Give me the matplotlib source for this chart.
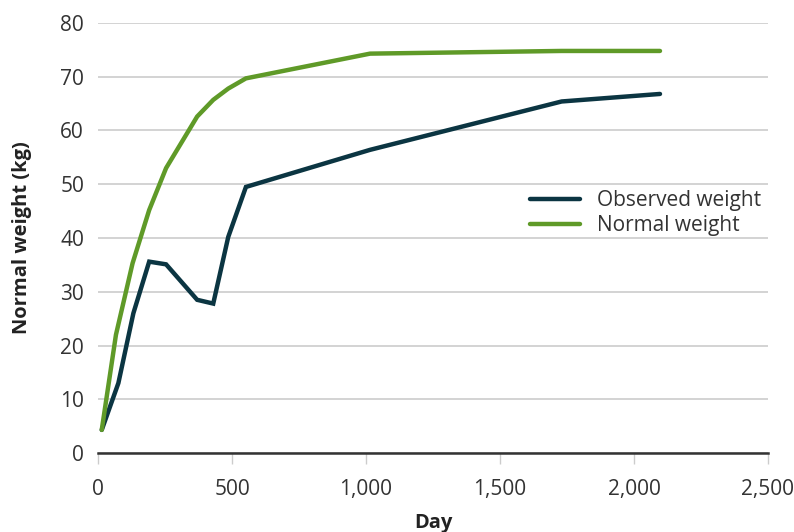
import matplotlib
matplotlib.use("Agg")
import matplotlib.pyplot as plt
from matplotlib.ticker import FuncFormatter

# values
days = [14, 76, 132, 191, 254, 370, 430, 486, 552, 1015, 1730, 2097]
observed = [4.3, 13.0, 26.0, 35.6, 35.1, 28.5, 27.8, 40.2, 49.5, 56.4, 65.4, 66.8]
normal_days = [14, 67, 129, 191, 254, 370, 430, 486, 552, 1015, 1730, 2097]
normal = [4.3, 22.0, 35.3, 45.2, 53.0, 62.6, 65.7, 67.8, 69.7, 74.3, 74.8, 74.8]

x_ticks = [0, 500, 1000, 1500, 2000, 2500]
y_ticks = [0, 10, 20, 30, 40, 50, 60, 70, 80]

plt.rcParams['font.family'] = ['Open Sans', 'DejaVu Sans']

fig = plt.figure(figsize=(7.94, 5.32), dpi=100)
ax = fig.add_axes([98 / 794, 1 - 453 / 532, 670 / 794, 430 / 532])

ax.plot(days, observed, color="#0b3542", lw=3.2, solid_capstyle="round",
        solid_joinstyle="miter", label="Observed weight", zorder=3)
ax.plot(normal_days, normal, color="#5f9a28", lw=3.2, solid_capstyle="round",
        solid_joinstyle="miter", label="Normal weight", zorder=3)

ax.set_xlim(0, 2500)
ax.set_ylim(0, 80)
ax.set_xticks(x_ticks)
ax.set_yticks(y_ticks)
ax.xaxis.set_major_formatter(FuncFormatter(lambda v, p: f"{int(v):,}"))

ax.grid(axis="y", color="#cccccc", lw=1.2, zorder=0)
for s in ["top", "right", "left"]:
    ax.spines[s].set_visible(False)
ax.spines["bottom"].set_color("#333333")
ax.spines["bottom"].set_linewidth(1.8)
ax.spines["bottom"].set_zorder(4)

ax.tick_params(axis="y", length=0, pad=10, labelsize=15, labelcolor="#333333")
ax.tick_params(axis="x", length=8, width=1, color="#cccccc", pad=11,
               labelsize=15, labelcolor="#333333")

ax.set_xlabel("Day", fontsize=14.5, fontweight="bold", color="#222222", labelpad=9)
ax.set_ylabel("Normal weight (kg)", fontsize=14.5, fontweight="bold",
              color="#222222", labelpad=20)

ax.legend(loc="center left", bbox_to_anchor=(0.645, 0.558), frameon=False,
          fontsize=15, handlelength=2.4, handletextpad=0.8, borderpad=0,
          borderaxespad=0, labelspacing=0.2, labelcolor="#333333")

fig.savefig("out.png", dpi=100)
